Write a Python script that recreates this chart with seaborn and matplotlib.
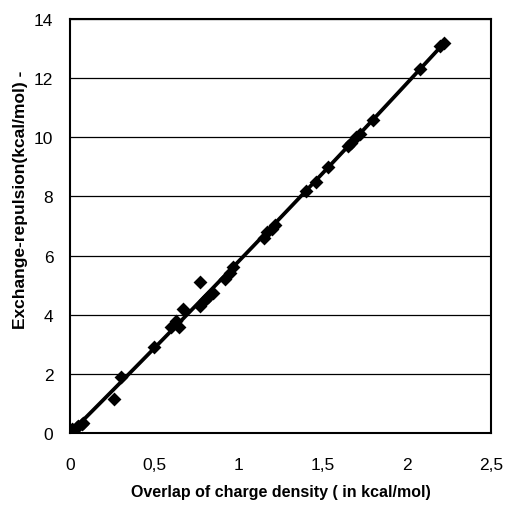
import matplotlib
matplotlib.use("Agg")
import matplotlib.pyplot as plt
import seaborn as sns
import numpy as np
import pandas as pd

overlap = [0.0, 0.01, 0.02, 0.04, 0.05, 0.07, 0.08, 0.26, 0.30, 0.50, 0.60, 0.63, 0.65,
           0.67, 0.77, 0.77, 0.80, 0.82, 0.85, 0.92, 0.95, 0.97, 1.15, 1.17, 1.20, 1.22,
           1.40, 1.46, 1.53, 1.65, 1.67, 1.70, 1.72, 1.80, 2.08, 2.20, 2.22]
exch_rep = [0.0, 0.15, 0.10, 0.20, 0.25, 0.30, 0.35, 1.15, 1.90, 2.90, 3.60, 3.80, 3.60,
            4.20, 5.10, 4.30, 4.50, 4.60, 4.75, 5.20, 5.40, 5.60, 6.60, 6.80, 6.90, 7.05,
            8.20, 8.50, 9.00, 9.70, 9.80, 10.00, 10.10, 10.60, 12.30, 13.10, 13.20]
x_ticks = [0, 0.5, 1, 1.5, 2, 2.5]
x_tick_labels = ["0", "0,5", "1", "1,5", "2", "2,5"]
y_ticks = [0, 2, 4, 6, 8, 10, 12, 14]

df = pd.DataFrame({"x": overlap, "y": exch_rep})

sns.set_style("white")
plt.rcParams["font.family"] = ["Liberation Sans", "DejaVu Sans"]

fig = plt.figure(figsize=(5.05, 5.06), dpi=100)
ax = fig.add_axes([70/505, 72/506, 421/505, 414/506])

sns.regplot(data=df, x="x", y="y", order=2, ci=None, ax=ax,
            marker="D", color="black",
            scatter_kws={"s": 50, "edgecolor": "black", "linewidths": 0,
                         "alpha": 1, "zorder": 3},
            line_kws={"linewidth": 2.7, "color": "black", "zorder": 4})

ax.set_xlim(0, 2.5)
ax.set_ylim(0, 14)
ax.set_xticks(x_ticks)
ax.set_xticklabels(x_tick_labels)
ax.set_yticks(y_ticks)
ax.set_yticklabels([str(v) for v in y_ticks])
ax.yaxis.grid(True, color="black", linewidth=0.9)
ax.set_axisbelow(True)
for s in ax.spines.values():
    s.set_color("black")
    s.set_linewidth(1.5)
ax.tick_params(axis="both", direction="out", length=5, width=1, color="black",
               labelsize=12.5, labelcolor="black")
ax.tick_params(axis="y", pad=7)
ax.tick_params(axis="x", pad=12)
ax.set_xlabel("Overlap of charge density ( in kcal/mol)", fontsize=11.5,
              fontweight="bold", color="black")
ax.set_ylabel("Exchange-repulsion(kcal/mol) -", fontsize=12.5,
              fontweight="bold", color="black")
ax.xaxis.set_label_coords(0.5, -0.123)
ax.yaxis.set_label_coords(-0.1, 0.565)

fig.savefig("out.png", dpi=100)
